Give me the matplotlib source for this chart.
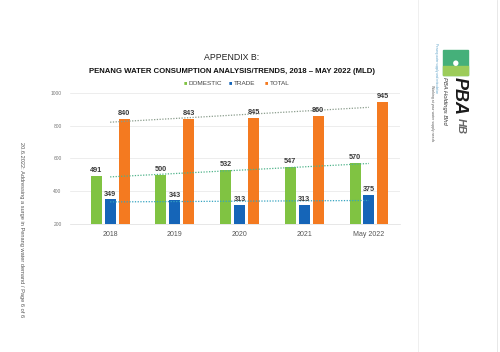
import numpy as np
import matplotlib
matplotlib.use('Agg')
import matplotlib.pyplot as plt

plt.rcParams['font.family'] = ['Liberation Sans', 'DejaVu Sans']

years = ['2018', '2019', '2020', '2021', 'May 2022']
domestic = [491, 500, 532, 547, 570]
trade = [349, 343, 313, 313, 375]
total = [840, 843, 845, 860, 945]

c_dom = '#80c342'
c_trade = '#1565b8'
c_total = '#f47a20'

fig = plt.figure(figsize=(5, 3.52), dpi=100)
fig.patch.set_facecolor('white')

ax = fig.add_axes([0.14, 0.364, 0.66, 0.372])
x = np.arange(len(years))
w = 0.17
off = 0.215
for vals, dx, col in [(domestic, -off, c_dom), (trade, 0, c_trade), (total, off, c_total)]:
    ax.bar(x + dx, vals, width=w, color=col, zorder=2)
    for xi, v in zip(x, vals):
        ax.text(xi + dx, v + 12, str(v), ha='center', va='bottom', fontsize=5.2,
                fontweight='bold', color='#3a3a3a', zorder=4)

# linear trend lines
for vals, col in [(total, '#8a9c8c'), (domestic, '#4fb38a'), (trade, '#35a3c0')]:
    k, b = np.polyfit(x, vals, 1)
    ax.plot([x[0], x[-1]], [b, b + k * x[-1]], ls=(0, (1, 1.2)), lw=0.9, color=col, zorder=3)

ax.set_ylim(200, 1000)
ax.set_xlim(-0.62, 4.48)
ax.set_yticks([200, 400, 600, 800, 1000])
ax.set_xticks(x)
ax.set_xticklabels(years)
ax.tick_params(axis='y', labelsize=3.5, colors='#777777', length=0, pad=6)
ax.tick_params(axis='x', labelsize=5, colors='#555555', length=0, pad=5)
ax.grid(axis='y', color='#e6e6e6', lw=0.5, zorder=0)
for s in ['top', 'right', 'left']:
    ax.spines[s].set_visible(False)
ax.spines['bottom'].set_color('#dddddd')
ax.spines['bottom'].set_linewidth(0.5)

# titles and legend
fig.text(0.464, 0.838, 'APPENDIX B:', ha='center', va='center', fontsize=6.3, color='#222222')
fig.text(0.464, 0.798, 'PENANG WATER CONSUMPTION ANALYSIS/TRENDS, 2018 \u2013 MAY 2022 (MLD)',
         ha='center', va='center', fontsize=5.6, fontweight='bold', color='#111111')
leg_items = [('DOMESTIC', c_dom), ('TRADE', c_trade), ('TOTAL', c_total)]
lx = [0.368, 0.458, 0.530]
for (lab, col), px in zip(leg_items, lx):
    fig.text(px, 0.764, '\u25a0', ha='left', va='center', fontsize=4, color=col)
    fig.text(px + 0.009, 0.764, lab, ha='left', va='center', fontsize=4.6, color='#444444')

# page side text
fig.text(0.042, 0.347, '20.6.2022: Addressing a surge in Penang water demand / Page 6 of 6',
         rotation=-90, ha='center', va='center', fontsize=4.1, color='#555555')

# page edges
fig.add_artist(plt.Line2D([0.836, 0.836], [0, 1], color='#ececec', lw=0.6))
fig.add_artist(plt.Line2D([0.994, 0.994], [0, 1], color='#e4e4e4', lw=0.6))

# logo block
fig.add_artist(plt.Rectangle((0.886, 0.787), 0.05, 0.071, color='#45b07a', transform=fig.transFigure))
fig.add_artist(plt.Rectangle((0.886, 0.787), 0.05, 0.025, color='#9ccc5a', transform=fig.transFigure))
fig.text(0.911, 0.818, '\u25cf', ha='center', va='center', fontsize=9, color='white')
fig.text(0.918, 0.728, 'PBA', rotation=-90, ha='center', va='center', fontsize=13,
         fontweight='bold', style='italic', color='#1a1a1a')
fig.text(0.922, 0.642, 'HB', rotation=-90, ha='center', va='center', fontsize=8,
         fontweight='bold', style='italic', color='#666666')
fig.text(0.89, 0.714, 'PBA Holdings Bhd', rotation=-90, ha='center', va='center',
         fontsize=4.2, style='italic', color='#333333')
fig.text(0.864, 0.679, 'Working at your water supply needs', rotation=-90, ha='center',
         va='center', fontsize=2.5, color='#555555')
fig.text(0.872, 0.807, 'Penang water supply and reticulation', rotation=-90, ha='center',
         va='center', fontsize=2.2, color='#5aa0c8')

fig.savefig('out.png', dpi=100)
